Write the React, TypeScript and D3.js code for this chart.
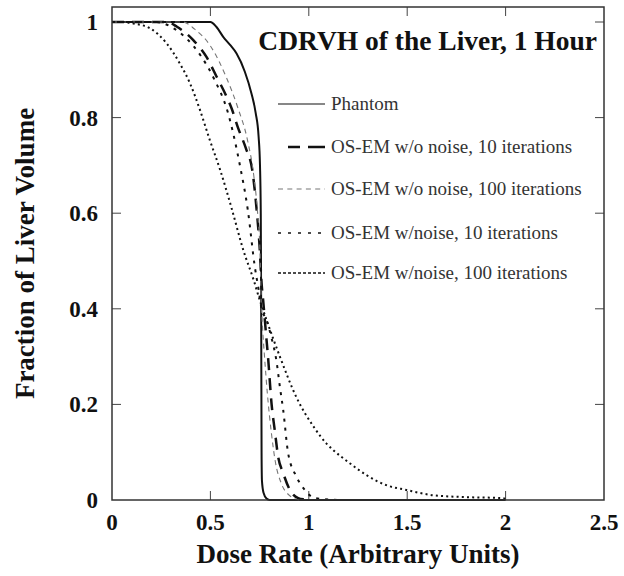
import React from "react";
import * as d3 from "d3";

const xTicks = [0, 0.5, 1, 1.5, 2, 2.5];
const yTicks = [0, 0.2, 0.4, 0.6, 0.8, 1];
const xTickLabels = ["0", "0.5", "1", "1.5", "2", "2.5"];
const yTickLabels = ["0", "0.2", "0.4", "0.6", "0.8", "1"];

const seriesNames = [
  "Phantom",
  "OS-EM w/o noise, 10 iterations",
  "OS-EM w/o noise, 100 iterations",
  "OS-EM w/noise, 10 iterations",
  "OS-EM w/noise, 100 iterations",
];

const phantomX = [0, 0.5, 0.53, 0.565, 0.6, 0.633, 0.675, 0.709, 0.73, 0.745, 0.752, 0.756, 0.758, 0.76, 0.762, 0.77, 0.785, 0.8, 2.0];
const phantomY = [1, 1, 0.99, 0.969, 0.952, 0.934, 0.896, 0.85, 0.81, 0.76, 0.7, 0.6, 0.4, 0.1, 0.04, 0.015, 0.003, 0, 0];

const noNoise10X = [0, 0.28, 0.33, 0.413, 0.48, 0.531, 0.582, 0.608, 0.641, 0.68, 0.714, 0.735, 0.75, 0.76, 0.768, 0.78, 0.794, 0.811, 0.827, 0.844, 0.87, 0.904, 0.946, 0.98, 1.0];
const noNoise10Y = [1, 1, 0.99, 0.962, 0.927, 0.886, 0.844, 0.819, 0.778, 0.736, 0.687, 0.607, 0.53, 0.454, 0.418, 0.36, 0.293, 0.2, 0.146, 0.091, 0.056, 0.021, 0.004, 0.001, 0];

const noNoise100X = [0, 0.36, 0.42, 0.5, 0.58, 0.64, 0.69, 0.72, 0.74, 0.752, 0.758, 0.765, 0.775, 0.79, 0.81, 0.83, 0.86, 0.9, 0.95];
const noNoise100Y = [1, 1, 0.985, 0.95, 0.885, 0.82, 0.75, 0.68, 0.6, 0.52, 0.42, 0.36, 0.3, 0.22, 0.14, 0.08, 0.035, 0.01, 0];

const noise10X = [0, 0.22, 0.3, 0.38, 0.45, 0.52, 0.59, 0.65, 0.69, 0.726, 0.745, 0.76, 0.785, 0.81, 0.836, 0.853, 0.87, 0.895, 0.937, 0.98, 1.03, 1.15];
const noise10Y = [1, 1, 0.99, 0.965, 0.93, 0.88, 0.809, 0.7, 0.607, 0.487, 0.44, 0.4, 0.377, 0.34, 0.29, 0.237, 0.188, 0.098, 0.049, 0.021, 0.004, 0];

const noise100X = [0, 0.05, 0.107, 0.193, 0.278, 0.345, 0.396, 0.447, 0.497, 0.55, 0.608, 0.667, 0.72, 0.751, 0.785, 0.853, 0.937, 1.03, 1.09, 1.123, 1.208, 1.293, 1.394, 1.496, 1.631, 1.8, 1.986, 2.0];
const noise100Y = [1, 1, 0.997, 0.987, 0.955, 0.913, 0.872, 0.816, 0.753, 0.69, 0.61, 0.523, 0.46, 0.418, 0.377, 0.3, 0.215, 0.15, 0.118, 0.105, 0.077, 0.052, 0.031, 0.021, 0.01, 0.006, 0.004, 0.002];

const seriesX = [phantomX, noNoise10X, noNoise100X, noise10X, noise100X];
const seriesY = [phantomY, noNoise10Y, noNoise100Y, noise10Y, noise100Y];

const styles = [
  { stroke: "#111", width: 2, dash: "none", legendWidth: 1.2, legendDash: "none" },
  { stroke: "#111", width: 2.5, dash: "12,8", legendWidth: 2.5, legendDash: "0,10,12,8,12" },
  { stroke: "#777", width: 1.1, dash: "5,4", legendWidth: 1.1, legendDash: "5,4.3" },
  { stroke: "#111", width: 2, dash: "3,6", legendWidth: 1.6, legendDash: "3,7" },
  { stroke: "#111", width: 2, dash: "2,3.2", legendWidth: 1.6, legendDash: "3,2" },
];

const FONT = "'Liberation Serif', 'Times New Roman', serif";

export default function App() {
  const W = 624, H = 576;
  const left = 112, right = 604, top = 7, bottom = 500;
  const x = d3.scaleLinear().domain([0, 2.5]).range([left, right]);
  const y = d3.scaleLinear().domain([0, 1]).range([bottom, 22]);
  const line = d3.line<[number, number]>().x(d => x(d[0])).y(d => y(d[1])).curve(d3.curveMonotoneX);
  const tickLen = 9;
  const legendY = [104, 147, 189, 233, 273];

  return (
    <svg width={W} height={H} style={{ position: "absolute", left: 0, top: 0, background: "#fff" }}>
      <rect x={0} y={0} width={W} height={H} fill="#fff" />
      {/* ticks */}
      {xTicks.slice(1, -1).map(t => (
        <g key={"xt" + t}>
          <line x1={x(t)} x2={x(t)} y1={bottom} y2={bottom - tickLen} stroke="#444" strokeWidth={1} />
          <line x1={x(t)} x2={x(t)} y1={top} y2={top + tickLen} stroke="#444" strokeWidth={1} />
        </g>
      ))}
      {yTicks.slice(1).map(t => (
        <g key={"yt" + t}>
          <line x1={left} x2={left + tickLen} y1={y(t)} y2={y(t)} stroke="#444" strokeWidth={1} />
          <line x1={right} x2={right - tickLen} y1={y(t)} y2={y(t)} stroke="#444" strokeWidth={1} />
        </g>
      ))}
      {/* series */}
      {seriesX.map((xs, i) => {
        const pts: [number, number][] = xs.map((v, j) => [v, seriesY[i][j]]);
        const s = styles[i];
        return (
          <path key={"s" + i} d={line(pts) || ""} fill="none" stroke={s.stroke} strokeWidth={s.width}
            strokeDasharray={s.dash} strokeLinejoin="round" />
        );
      })}
      <rect x={left} y={top} width={right - left} height={bottom - top} fill="none" stroke="#333" strokeWidth={1.5} />
      {/* tick labels */}
      {xTicks.map((t, i) => (
        <text key={"xl" + t} x={x(t)} y={530} textAnchor="middle" fontFamily={FONT} fontWeight="bold" fontSize={23} fill="#111">
          {xTickLabels[i]}
        </text>
      ))}
      {yTicks.map((t, i) => (
        <text key={"yl" + t} x={98} y={y(t) + 8} textAnchor="end" fontFamily={FONT} fontWeight="bold" fontSize={23} fill="#111">
          {yTickLabels[i]}
        </text>
      ))}
      {/* axis titles */}
      <text x={(left + right) / 2} y={563} textAnchor="middle" fontFamily={FONT} fontWeight="bold" fontSize={27} fill="#111">
        Dose Rate (Arbitrary Units)
      </text>
      <text transform={`translate(34,${(top + bottom) / 2}) rotate(-90)`} textAnchor="middle" fontFamily={FONT} fontWeight="bold" fontSize={27} fill="#111">
        Fraction of Liver Volume
      </text>
      {/* title */}
      <text x={597} y={50} textAnchor="end" fontFamily={FONT} fontWeight="bold" fontSize={27.5} fill="#111">
        CDRVH of the Liver, 1 Hour
      </text>
      {/* legend */}
      {seriesNames.map((name, i) => {
        const s = styles[i];
        return (
          <g key={"lg" + i}>
            <line x1={278} x2={325} y1={legendY[i]} y2={legendY[i]} stroke={s.stroke} strokeWidth={s.legendWidth}
              strokeDasharray={s.legendDash} />
            <text x={331} y={legendY[i] + 6} fontFamily={FONT} fontSize={19} fill="#333">
              {name}
            </text>
          </g>
        );
      })}
    </svg>
  );
}
